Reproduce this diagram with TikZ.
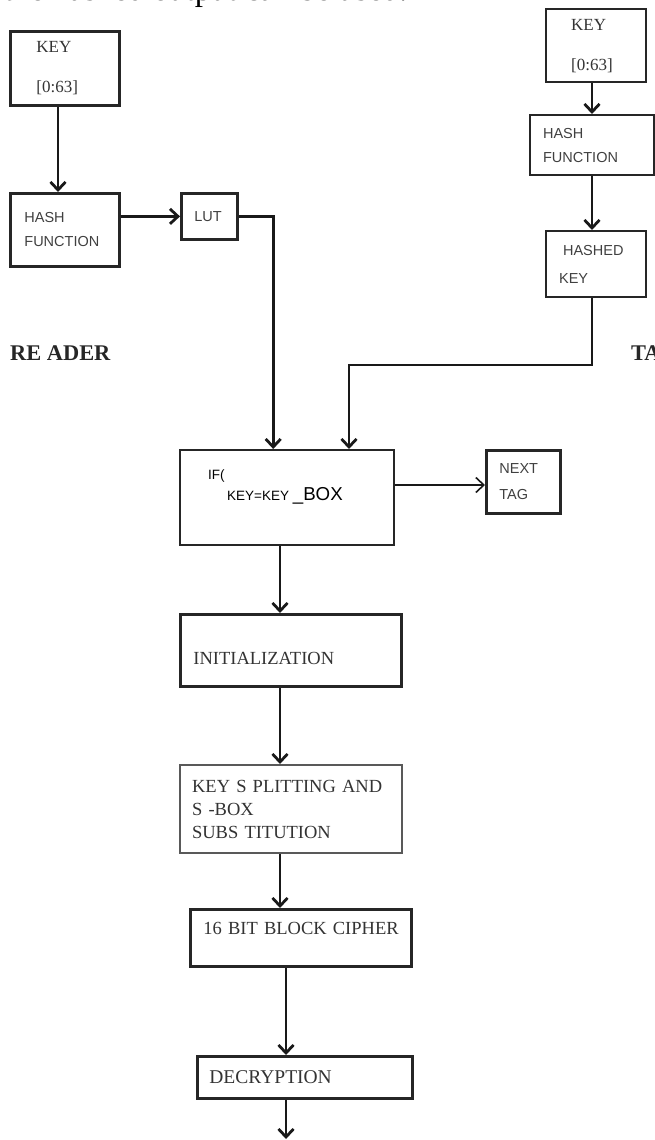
\documentclass[tikz,border=0pt]{standalone}
\usepackage{fontspec}
\setmainfont{Liberation Serif}
\setsansfont{Liberation Sans}
\usetikzlibrary{arrows.meta}

\tikzset{
  box/.style={draw=black!85, line width=2.8pt, anchor=north west, align=left, inner sep=0pt},
  steptxt/.style={font=\fontsize{18.5}{23}\selectfont, text=black!80},
  keyfont/.style={font=\fontsize{17}{20}\selectfont, text=black!80},
  sml/.style={font=\sffamily\fontsize{14.5}{24}\selectfont, text=black!75},
  side/.style={anchor=west, inner sep=0pt, font=\bfseries\fontsize{22.4}{24}\selectfont, text=black!85},
  arr/.style={line width=2.8pt, draw=black!90, -{Straight Barb[length=8pt,width=15pt]}},
}

\begin{document}
\begin{tikzpicture}[x=1pt,y=-1pt]
  \useasboundingbox (0,0) rectangle (655,1140);
  \clip (0,0) rectangle (655,1140);
  % line of text cut off at the top
  \node[anchor=base west, inner sep=0pt, font=\fontsize{33}{36}\selectfont] (topline) at (4,1) {the hashed output can be used.};
  % reader side
  \node[box, keyfont, minimum width=109, minimum height=74, text width=57] (keyL) at (9,30) {KEY\\[20pt]{[0:63]}};
  \node[box, sml, minimum width=109, minimum height=73, text width=81] (hashL) at (9,192) {HASH\\FUNCTION};
  \node[box, sml, minimum width=56, minimum height=46, text width=30] (lut) at (180,192) {LUT};
  \node[side] (reader) at (10,353) {RE ADER};
  % tag side
  \node[box, keyfont, line width=2.4pt, minimum width=100, minimum height=73, text width=50] (keyR) at (545,8) {KEY\\[20pt]{[0:63]}};
  \node[box, sml, line width=2.2pt, minimum width=124, minimum height=60, text width=98] (hashR) at (529,114) {HASH\\FUNCTION};
  \node[box, sml, line width=2.2pt, minimum width=100, minimum height=66, text width=74] (hashedR) at (545,230) {\hspace*{4pt}HASHED\\[4pt]KEY};
  \node[side] (tagside) at (631,353) {TAG};
  % main chain
  \node[box, line width=2.4pt, minimum width=214, minimum height=95] (ifbox) at (179,449) {};
  \node[anchor=north west, inner sep=0pt, align=left, font=\sffamily\fontsize{13.5}{21}\selectfont] (iftxt) at (208,470)
    {IF(\\\hspace*{19pt}KEY=KEY {\fontsize{18.7}{21}\selectfont\_BOX}};
  \node[box, sml, minimum width=74, minimum height=63, text width=48] (next) at (485,449) {NEXT\\[2pt]TAG};
  \node[box, steptxt, minimum width=221, minimum height=72, text width=195] (init) at (179,613)
    {\raisebox{-8pt}[\height][\depth]{INITIALIZATION}};
  \node[box, steptxt, draw=black!65, line width=2.2pt, minimum width=222, minimum height=88, text width=198] (split) at (179,764)
    {KEY S PLITTING AND\\S -BOX\\SUBS TITUTION};
  \node[box, steptxt, minimum width=221, minimum height=57, text width=195] (cipher) at (189,908)
    {\raisebox{9pt}[\height][\depth]{16 BIT BLOCK CIPHER}};
  \node[box, steptxt, font=\fontsize{19.5}{23}\selectfont, minimum width=215, minimum height=42, text width=191] (decrypt) at (196,1055) {DECRYPTION};

  % columns of the connectors
  \coordinate (lx) at (58,0);
  \coordinate (rx) at (592,0);
  \coordinate (mx) at (280,0);
  \coordinate (cx) at (286,0);
  \coordinate (ny) at (0,485);
  \coordinate (tj) at (349,365);
  \coordinate (out) at (286,1139);

  \draw[arr] (lx |- keyL.south) -- (lx |- hashL.north);
  \draw[arr] (lut.west -| hashL.east) -- (lut.west);
  \draw[arr] (lut.east) -| ([xshift=-14pt]ifbox.north);
  \draw[arr] (rx |- keyR.south) -- (rx |- hashR.north);
  \draw[arr] (rx |- hashR.south) -- (rx |- hashedR.north);
  \draw[arr] (rx |- hashedR.south) |- (tj) -- (tj |- ifbox.north);
  \draw[arr, line width=1.6pt] (ifbox.east |- ny) -- (next.west |- ny);
  \draw[arr] (mx |- ifbox.south) -- (mx |- init.north);
  \draw[arr] (mx |- init.south) -- (mx |- split.north);
  \draw[arr] (mx |- split.south) -- (mx |- cipher.north);
  \draw[arr] (cx |- cipher.south) -- (cx |- decrypt.north);
  \draw[arr] (cx |- decrypt.south) -- (out);
\end{tikzpicture}
\end{document}
